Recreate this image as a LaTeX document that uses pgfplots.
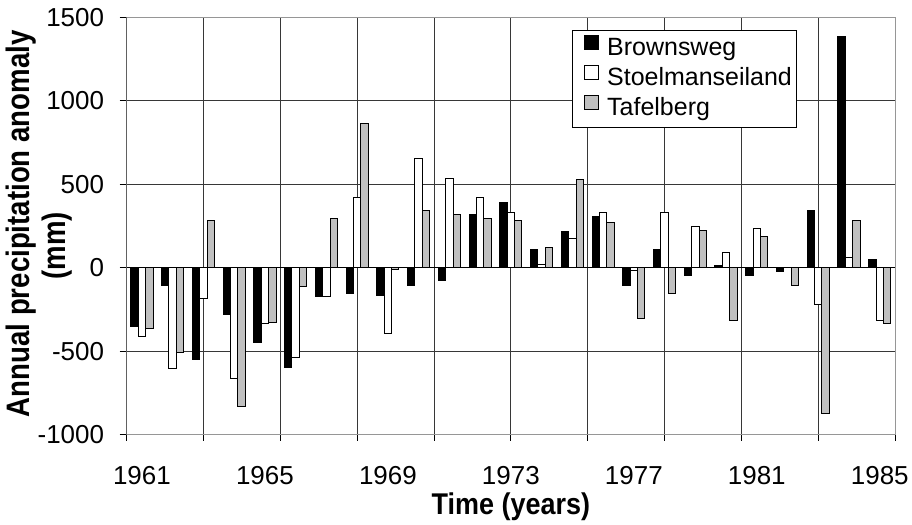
\documentclass[border=0pt]{standalone}
\usepackage{fontspec}
\setmainfont{Liberation Sans}
\newfontfamily\ylabfont[FakeStretch=0.85]{Liberation Sans}
\newfontfamily\xlabfont[FakeStretch=0.9]{Liberation Sans}
\usepackage{pgfplots}
\usepackage{pgfplotstable}
\pgfplotsset{compat=1.18}

\definecolor{silver}{RGB}{192,192,192}
\definecolor{framegray}{RGB}{150,150,150}
\definecolor{gridgray}{RGB}{55,55,55}

% bar style: outlined bar at a fixed offset within its year
\pgfplotsset{
  station/.style={ybar, bar width=7.4pt, bar shift=#1,
    draw=black, line width=1pt, forget plot},
  swatch/.style={draw=black, line width=1pt,
    legend image code/.code={%
      \path[draw=none, fill=none] (0pt,0pt) rectangle (22pt,14pt);
      \draw[##1] (8pt,0pt) rectangle (22pt,14pt);}},
}

% annual precipitation anomaly (mm)
\pgfplotstableread{
year brownsweg stoelmanseiland tafelberg
1961 -354 -410 -362
1962 -106 -606 -510
1963 -550 -186 282
1964 -280 -664 -830
1965 -446 -336 -330
1966 -596 -536 -114
1967 -174 -174 294
1968 -154 420 864
1969 -164 -394 -14
1970 -106 654 340
1971 -74 536 316
1972 316 420 294
1973 388 328 282
1974 108 16 118
1975 214 174 526
1976 308 328 268
1977 -106 -15 -304
1978 108 328 -152
1979 -48 246 222
1980 14 92 -316
1981 -48 234 186
1982 -24 0 -104
1983 340 -222 -874
1984 1384 60 282
1985 50 -316 -336
}\anomaly

\begin{document}
\begin{tikzpicture}
\begin{axis}[
  name=ax,
  scale only axis,
  width=769.3pt, height=417.7pt,
  xmin=1960.5, xmax=1985.5,
  ymin=-1000, ymax=1500,
  xtick={1961,1965,...,1985},
  xticklabels={1961,1965,1969,1973,1977,1981,1985},
  ytick={-1000,-500,...,1500},
  yticklabels={-1000,-500,0,500,1000,1500},
  minor xtick={1963,1965.5,1968,1970.5,1973,1975.5,1978,1980.5,1983},
  extra x ticks={1960.5,1985.5},
  extra x tick labels={},
  extra x tick style={grid=none, major tick length=6pt,
    every major x tick/.append style={draw=black}},
  xminorgrids=true, ymajorgrids=true, xmajorgrids=false,
  tick pos=left, tick align=outside,
  major tick length=7pt, minor tick length=6pt,
  every major x tick/.append style={draw=none},
  tick style={black, line width=0.8pt},
  major grid style={gridgray, line width=0.8pt},
  minor grid style={gridgray, line width=0.8pt},
  axis line style={framegray, line width=1.2pt},
  /pgf/number format/assume math mode=true,
  tick label style={font=\fontsize{26}{30}\selectfont},
  xticklabel style={yshift=-21pt},
  yticklabel style={xshift=-12pt},
  xlabel={Time (years)},
  ylabel={Annual precipitation anomaly\\(mm)\hspace*{44pt}},
  every axis x label/.style={at={(axis description cs:0.5,-0.132)}, anchor=north,
    font=\xlabfont\bfseries\fontsize{30}{32}\selectfont},
  every axis y label/.style={at={(axis description cs:-0.0655,0.505)}, rotate=90, anchor=south,
    align=center, font=\ylabfont\bfseries\fontsize{32.5}{36.4}\selectfont},
  legend style={
    at={(0.580,0.9696)}, anchor=north west,
    draw=black, line width=0.8pt, fill=white,
    inner xsep=4pt, inner ysep=3.8pt,
    font=\fontsize{25}{30}\selectfont,
    column sep=7pt,
    nodes={inner xsep=1pt, inner ysep=3.5pt, text height=18pt, text depth=5pt},
  },
  legend cell align=left,
]
\addplot[station=-7.4pt, fill=black]
  table[x=year, y=brownsweg] {\anomaly};
\addplot[station=0pt, fill=white]
  table[x=year, y=stoelmanseiland] {\anomaly};
\addplot[station=7.4pt, fill=silver]
  table[x=year, y=tafelberg] {\anomaly};
\addlegendimage{swatch, fill=black}
\addlegendentry{Brownsweg}
\addlegendimage{swatch, fill=white}
\addlegendentry{Stoelmanseiland}
\addlegendimage{swatch, fill=silver}
\addlegendentry{Tafelberg}
% value axis on the left and the zero line across the plot
\draw[black, line width=1pt] (rel axis cs:0,0) -- (rel axis cs:0,1);
\draw[black, line width=1pt] (axis cs:1960.5,0) -- (axis cs:1985.5,0);
\end{axis}
\path (ax.south west) ++(-126.7pt,-86pt) coordinate (bbA);
\path (ax.north east) ++(16pt,17.3pt) coordinate (bbB);
\path (bbA) rectangle (bbB);
\end{tikzpicture}
\end{document}
